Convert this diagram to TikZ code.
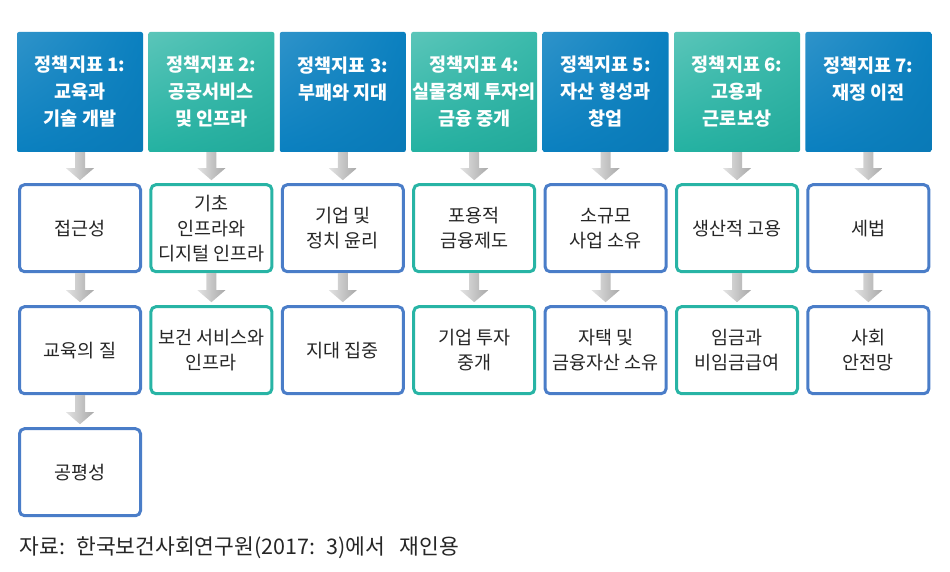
\documentclass[tikz,border=0pt]{standalone}
\usepackage{fontspec}
\setmainfont{Noto Sans CJK KR}
\usepackage{tikz}
\usetikzlibrary{positioning,calc,shapes.misc,shadings}

\definecolor{hdrblue}{RGB}{10,128,192}
\definecolor{hdrteal}{RGB}{36,178,162}
\definecolor{boxblue}{RGB}{74,125,200}
\definecolor{boxteal}{RGB}{40,180,165}

% gray block arrow between two named nodes
\newcommand{\grayarrow}[2]{%
  \shade[left color=gray!22, right color=gray!68]
    ($(#1.south)+(-5,0)$) -- ($(#2.north)+(-5,15)$) -- ($(#2.north)+(-14,15)$)
    -- ($(#2.north)+(0,3)$) -- ($(#2.north)+(14,15)$) -- ($(#2.north)+(5,15)$)
    -- ($(#1.south)+(5,0)$) -- cycle;}

\begin{document}
\begin{tikzpicture}[x=1pt,y=1pt,node distance=32pt]
        \tikzstyle{header} = [rectangle, rounded corners=2pt, minimum width=126pt, minimum height=120pt, inner sep=0pt, align=center, text=white, font=\fontsize{18.5}{27}\selectfont\bfseries]
        \tikzstyle{bluehead} = [header, shade, upper left=hdrblue!85!white, upper right=hdrblue, lower left=hdrblue, lower right=hdrblue!95!black]
        \tikzstyle{tealhead} = [header, shade, upper left=hdrteal!75!white, upper right=hdrteal!90!white, lower left=hdrteal, lower right=hdrteal!95!black]
        \tikzstyle{roundrect} = [rectangle, rounded corners=5pt, minimum width=121pt, minimum height=87pt, inner sep=1pt, align=center, line width=3pt, fill=white, font=\fontsize{18.5}{25}\selectfont, text=black!85]
        \tikzstyle{bluebox} = [roundrect, draw=boxblue]
        \tikzstyle{tealbox} = [roundrect, draw=boxteal]
        \useasboundingbox (0,0) rectangle (950,-572);

        \node (head1) [bluehead] at (80,-92) {정책지표 1:\\교육과\\기술 개발};
        \node (head2) [tealhead, right=5pt of head1] {정책지표 2:\\공공서비스\\및 인프라};
        \node (head3) [bluehead, right=5pt of head2] {정책지표 3:\\부패와 지대\\~};
        \node (head4) [tealhead, right=5pt of head3] {정책지표 4:\\실물경제 투자의\\금융 중개};
        \node (head5) [bluehead, right=5pt of head4] {정책지표 5:\\자산 형성과\\창업};
        \node (head6) [tealhead, right=5pt of head5] {정책지표 6:\\고용과\\근로보상};
        \node (head7) [bluehead, right=5pt of head6] {정책지표 7:\\재정 이전\\~};

        \node (box1a) [bluebox, below=31pt of head1] {접근성};
        \node (box1b) [bluebox, below=of box1a] {교육의 질};
        \node (box1c) [bluebox, below=of box1b] {공평성};
        \node (box2a) [tealbox, below=31pt of head2] {기초\\인프라와\\디지털 인프라};
        \node (box2b) [tealbox, below=of box2a] {보건 서비스와\\인프라};
        \node (box3a) [bluebox, below=31pt of head3] {기업 및\\정치 윤리};
        \node (box3b) [bluebox, below=of box3a] {지대 집중};
        \node (box4a) [tealbox, below=31pt of head4] {포용적\\금융제도};
        \node (box4b) [tealbox, below=of box4a] {기업 투자\\중개};
        \node (box5a) [bluebox, below=31pt of head5] {소규모\\사업 소유};
        \node (box5b) [bluebox, below=of box5a] {자택 및\\금융자산 소유};
        \node (box6a) [tealbox, below=31pt of head6] {생산적 고용};
        \node (box6b) [tealbox, below=of box6a] {임금과\\비임금급여};
        \node (box7a) [bluebox, below=31pt of head7] {세법};
        \node (box7b) [bluebox, below=of box7a] {사회\\안전망};

        \foreach \col in {1,...,7} {
            \grayarrow{head\col}{box\col a}
            \grayarrow{box\col a}{box\col b}
        }
        \grayarrow{box1b}{box1c}

        \node (source) [anchor=west, font=\fontsize{21.5}{23}\selectfont, text=black!85] at (16,-548) {자료:~ 한국보건사회연구원(2017:~ 3)에서~~ 재인용};
    \end{tikzpicture}
\end{document}
